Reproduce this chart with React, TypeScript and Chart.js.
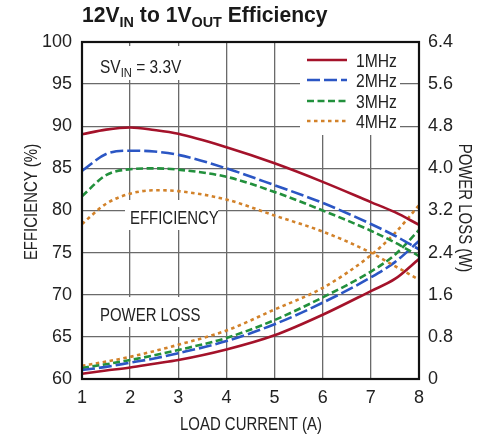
import React, { useEffect, useRef } from "react";
import { Chart, registerables } from "chart.js";

Chart.register(...registerables);

// ---------------- DATA ----------------
const LOAD_CURRENT = [1, 1.5, 2, 2.5, 3, 4, 5, 6, 7, 7.5, 8];
const SERIES_NAMES = ["1MHz", "2MHz", "3MHz", "4MHz"];

const EFF_1MHZ = [89.05, 89.6, 89.85, 89.55, 89.1, 87.5, 85.6, 83.4, 81.0, 79.8, 78.3];
const EFF_2MHZ = [84.7, 86.7, 87.1, 87.0, 86.6, 85.0, 83.0, 80.9, 78.4, 77.0, 75.4];
const EFF_3MHZ = [81.7, 84.2, 84.9, 85.0, 84.85, 84.0, 82.2, 80.0, 77.6, 76.2, 74.6];
const EFF_4MHZ = [78.4, 80.8, 82.0, 82.4, 82.3, 81.3, 79.4, 77.5, 75.0, 73.4, 71.8];

const PL_1MHZ = [0.1, 0.16, 0.22, 0.29, 0.36, 0.56, 0.83, 1.22, 1.67, 1.9, 2.28];
const PL_2MHZ = [0.17, 0.23, 0.31, 0.39, 0.49, 0.72, 1.04, 1.45, 1.93, 2.22, 2.62];
const PL_3MHZ = [0.21, 0.28, 0.36, 0.45, 0.55, 0.78, 1.12, 1.55, 2.04, 2.36, 2.83];
const PL_4MHZ = [0.25, 0.33, 0.42, 0.53, 0.65, 0.92, 1.32, 1.73, 2.35, 2.77, 3.3];

const X_TICKS = [1, 2, 3, 4, 5, 6, 7, 8];
const LEFT_TICKS = [60, 65, 70, 75, 80, 85, 90, 95, 100];
const RIGHT_TICKS = [0, 0.8, 1.6, 2.4, 3.2, 4.0, 4.8, 5.6, 6.4];
const RIGHT_TICK_LABELS = ["0", "0.8", "1.6", "2.4", "3.2", "4.0", "4.8", "5.6", "6.4"];

const COLORS = ["#a4122a", "#2b56c4", "#22903c", "#d2822a"];
const DASHES: number[][] = [[], [13, 4], [7, 3.5], [3.5, 3.5]];

const TICK_FONT = "'Liberation Sans Narrow', 'Arial Narrow', 'Liberation Sans', Arial, sans-serif";
const LABEL_FONT = "'Liberation Sans', Arial, sans-serif";

type Part = { t: string; size: number; bold?: boolean; dy?: number };

function drawRich(ctx: CanvasRenderingContext2D, parts: Part[], x: number, y: number, sx: number, align: "left" | "center" = "left") {
  ctx.save();
  ctx.textBaseline = "alphabetic";
  ctx.textAlign = "left";
  let total = 0;
  const widths = parts.map((p) => {
    ctx.font = `${p.bold ? "bold " : ""}${p.size}px ${LABEL_FONT}`;
    const w = ctx.measureText(p.t).width;
    total += w;
    return w;
  });
  ctx.translate(x, y);
  ctx.scale(sx, 1);
  let cx = align === "center" ? -total / 2 : 0;
  parts.forEach((p, i) => {
    ctx.font = `${p.bold ? "bold " : ""}${p.size}px ${LABEL_FONT}`;
    ctx.fillText(p.t, cx, p.dy || 0);
    cx += widths[i];
  });
  ctx.restore();
}

const decorPlugin = {
  id: "decor",
  beforeDatasetsDraw(chart: any) {
    const ctx = chart.ctx as CanvasRenderingContext2D;
    ctx.save();
    ctx.fillStyle = "#ffffff";
    ctx.fillRect(86, 46, 104, 34); // SV box
    ctx.fillRect(125, 200, 93, 30); // efficiency box
    ctx.fillRect(95, 297, 110, 30); // power loss box
    ctx.fillRect(300, 43, 100, 92); // legend box
    ctx.restore();
  },
  afterDatasetsDraw(chart: any) {
    const ctx = chart.ctx as CanvasRenderingContext2D;
    const ca = chart.chartArea;
    ctx.save();
    ctx.fillStyle = "#222";
    const S = 0.83;
    // annotations
    drawRich(ctx, [
      { t: "SV", size: 18 },
      { t: "IN", size: 13, dy: 4 },
      { t: " = 3.3V", size: 18 },
    ], 100, 73, 0.86);
    drawRich(ctx, [{ t: "EFFICIENCY", size: 18 }], 130, 224, S);
    drawRich(ctx, [{ t: "POWER LOSS", size: 18 }], 100, 321, S);

    // legend
    const rows = [60, 80, 101, 121];
    SERIES_NAMES.forEach((name, i) => {
      const ds = chart.data.datasets[i];
      ctx.save();
      ctx.strokeStyle = ds.borderColor;
      ctx.lineWidth = ds.borderWidth;
      ctx.setLineDash(ds.borderDash || []);
      ctx.beginPath();
      ctx.moveTo(307, rows[i]);
      ctx.lineTo(347, rows[i]);
      ctx.stroke();
      ctx.restore();
      ctx.fillStyle = "#222";
      drawRich(ctx, [{ t: name, size: 18 }], 356, rows[i] + 7, 0.87);
    });

    // border
    ctx.strokeStyle = "#111";
    ctx.lineWidth = 2.2;
    ctx.setLineDash([]);
    ctx.strokeRect(ca.left, ca.top, ca.right - ca.left, ca.bottom - ca.top);
    ctx.restore();
  },
  afterDraw(chart: any) {
    const ctx = chart.ctx as CanvasRenderingContext2D;
    ctx.save();
    ctx.fillStyle = "#1a1a1a";
    // title
    drawRich(ctx, [
      { t: "12V", size: 22, bold: true },
      { t: "IN", size: 15, bold: true, dy: 5 },
      { t: " to 1V", size: 22, bold: true },
      { t: "OUT", size: 15, bold: true, dy: 5 },
      { t: " Efficiency", size: 22, bold: true },
    ], 82, 22, 0.96);
    ctx.fillStyle = "#222";
    // x-axis title
    drawRich(ctx, [{ t: "LOAD CURRENT (A)", size: 18 }], 251, 430, 0.83, "center");
    // left title
    ctx.save();
    ctx.translate(37, 202);
    ctx.rotate(-Math.PI / 2);
    drawRich(ctx, [{ t: "EFFICIENCY (%)", size: 18 }], 0, 0, 0.83, "center");
    ctx.restore();
    // right title
    ctx.save();
    ctx.translate(459, 208);
    ctx.rotate(Math.PI / 2);
    drawRich(ctx, [{ t: "POWER LOSS (W)", size: 18 }], 0, 0, 0.83, "center");
    ctx.restore();
    ctx.restore();
  },
};

function pts(ys: number[]) {
  return LOAD_CURRENT.map((x, i) => ({ x, y: ys[i] }));
}

export default function App() {
  const ref = useRef<HTMLCanvasElement | null>(null);
  useEffect(() => {
    if (!ref.current) return;
    const effs = [EFF_1MHZ, EFF_2MHZ, EFF_3MHZ, EFF_4MHZ];
    const pls = [PL_1MHZ, PL_2MHZ, PL_3MHZ, PL_4MHZ];
    const mk = (ys: number[], i: number, axis: string, name: string) => ({
      label: name,
      data: pts(ys),
      yAxisID: axis,
      borderColor: COLORS[i],
      backgroundColor: COLORS[i],
      borderWidth: 2.6,
      borderDash: DASHES[i],
      borderCapStyle: "butt" as const,
      pointRadius: 0,
      fill: false,
      cubicInterpolationMode: "monotone" as const,
    });
    const datasets = [
      ...effs.map((e, i) => mk(e, i, "y", SERIES_NAMES[i])),
      ...pls.map((p, i) => mk(p, i, "y2", SERIES_NAMES[i] + " loss")),
    ];
    const gridStyle = { color: "#6a6a6a", lineWidth: 1.3, drawTicks: false };
    const tickFont = { family: TICK_FONT, size: 18 };
    const chart = new Chart(ref.current, {
      type: "line",
      data: { datasets },
      options: {
        animation: false,
        responsive: false,
        devicePixelRatio: 1,
        layout: { padding: { top: 42, left: 0, right: 0, bottom: 0 } },
        plugins: { legend: { display: false }, tooltip: { enabled: false }, title: { display: false } },
        scales: {
          x: {
            type: "linear",
            min: 1,
            max: 8,
            afterBuildTicks: (s: any) => { s.ticks = X_TICKS.map((v) => ({ value: v })); },
            afterFit: (s: any) => { s.height = 57; },
            grid: gridStyle,
            border: { display: false },
            ticks: { font: tickFont, color: "#222", padding: 8, maxRotation: 0 },
          },
          y: {
            type: "linear",
            position: "left",
            min: 60,
            max: 100,
            afterBuildTicks: (s: any) => { s.ticks = LEFT_TICKS.map((v) => ({ value: v })); },
            afterFit: (s: any) => { s.width = 82; },
            grid: gridStyle,
            border: { display: false },
            ticks: { font: tickFont, color: "#222", padding: 10 },
          },
          y2: {
            type: "linear",
            position: "right",
            min: 0,
            max: 6.4,
            afterBuildTicks: (s: any) => { s.ticks = RIGHT_TICKS.map((v) => ({ value: v })); },
            afterFit: (s: any) => { s.width = 81; },
            grid: { display: false, drawTicks: false },
            border: { display: false },
            ticks: {
              font: tickFont,
              color: "#222",
              padding: 9,
              callback: (_v: any, idx: number) => RIGHT_TICK_LABELS[idx],
            },
          },
        },
      } as any,
      plugins: [decorPlugin],
    });
    return () => chart.destroy();
  }, []);
  return (
    <div style={{ position: "fixed", left: 0, top: 0, width: 500, height: 436, background: "#fff" }}>
      <canvas ref={ref} width={500} height={436} style={{ width: 500, height: 436, display: "block" }} />
    </div>
  );
}
